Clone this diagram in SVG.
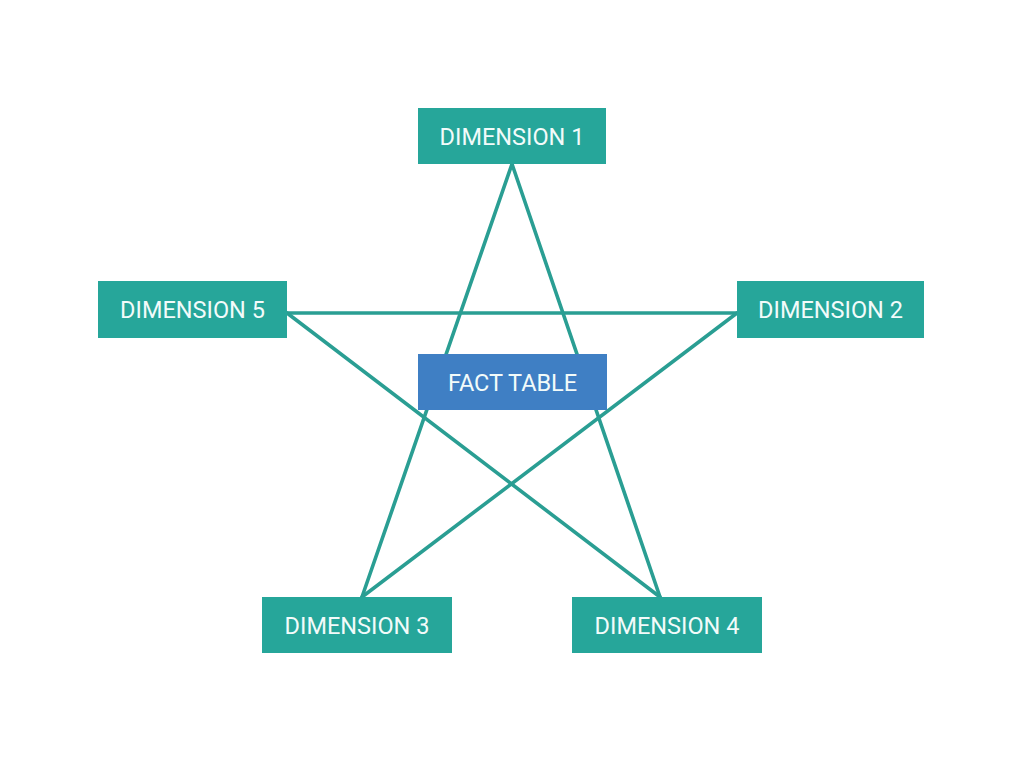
<svg xmlns="http://www.w3.org/2000/svg" width="1024" height="765" viewBox="0 0 1024 765">
<style>
.dim{fill:#26a69a}
.fact{fill:#3f7fc4}
.lbl{font-family:Roboto,"Liberation Sans",sans-serif;font-size:23.5px;font-weight:400;fill:#f2fbfa;text-anchor:middle;dominant-baseline:central}
.ln{stroke:#2a9e93;stroke-width:3.6;fill:none;stroke-linecap:round}
</style>
<rect width="1024" height="765" fill="#ffffff"/>
<g id="connectors">
<line class="ln" x1="512" y1="164" x2="362" y2="597"/>
<line class="ln" x1="512" y1="164" x2="660" y2="597"/>
<line class="ln" x1="287" y1="313" x2="737" y2="313"/>
<line class="ln" x1="287" y1="313" x2="660" y2="597"/>
<line class="ln" x1="737" y1="313" x2="362" y2="597"/>
</g>
<g id="dim1"><rect class="dim" x="418" y="108" width="188" height="56"/><text class="lbl" x="512" y="137">DIMENSION 1</text></g>
<g id="dim2"><rect class="dim" x="737" y="281" width="187" height="57"/><text class="lbl" x="830.5" y="310">DIMENSION 2</text></g>
<g id="dim5"><rect class="dim" x="98" y="281" width="189" height="57"/><text class="lbl" x="192.5" y="310">DIMENSION 5</text></g>
<g id="fact"><rect class="fact" x="418" y="354" width="189" height="56"/><text class="lbl" x="512.5" y="383">FACT TABLE</text></g>
<g id="dim3"><rect class="dim" x="262" y="597" width="190" height="56"/><text class="lbl" x="357" y="626">DIMENSION 3</text></g>
<g id="dim4"><rect class="dim" x="572" y="597" width="190" height="56"/><text class="lbl" x="667" y="626">DIMENSION 4</text></g>
</svg>
